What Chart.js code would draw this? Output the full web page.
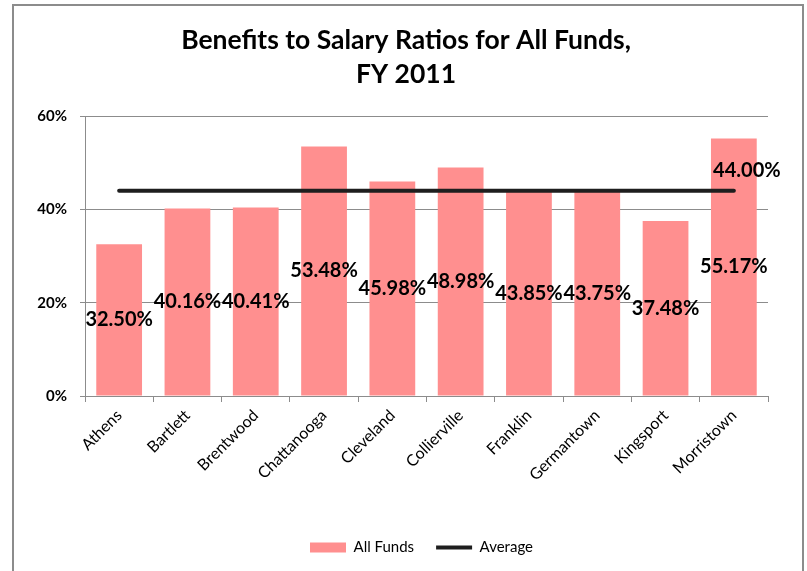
<!DOCTYPE html>
<html lang="en">
<head>
  <meta charset="UTF-8" />
  <title>Benefits to Salary Ratios for All Funds, FY 2011</title>
  <script src="https://cdn.jsdelivr.net/npm/chart.js"></script>
  <style>
    body { margin: 0; background: #fff; }
    #wrap { width: 807px; height: 571px; position: relative; }
  </style>
</head>
<body>
  <div id="wrap"><canvas id="ratioChart"></canvas></div>

  <script>
    // data
    const cities = ['Athens', 'Bartlett', 'Brentwood', 'Chattanooga', 'Cleveland',
                    'Collierville', 'Franklin', 'Germantown', 'Kingsport', 'Morristown'];
    const allFunds = [32.50, 40.16, 40.41, 53.48, 45.98, 48.98, 43.85, 43.75, 37.48, 55.17];
    const average  = [44.00, 44.00, 44.00, 44.00, 44.00, 44.00, 44.00, 44.00, 44.00, 44.00];
    const yTicks   = [0, 20, 40, 60];
    const titleLines = ['Benefits to Salary Ratios for All Funds,', 'FY 2011'];

    const FONT = 'Lato, "DejaVu Sans", sans-serif';

    // frame, title and value labels
    const decor = {
      id: 'decor',
      beforeDraw(chart) {
        const c = chart.ctx;
        c.save();
        c.strokeStyle = '#8c8c8c';
        c.lineWidth = 2;
        c.strokeRect(13, 5, 790, 620);
        c.fillStyle = '#000';
        c.font = 'bold 26.5px ' + FONT;
        c.textAlign = 'center';
        c.textBaseline = 'middle';
        c.fillText(titleLines[0], 406, 40);
        c.fillText(titleLines[1], 406, 74);
        c.restore();
      },
      afterLayout(chart) {
        // legend sits a little right of centre in the original
        chart.legend.left = 36;
        chart.legend.right = 807;
      },
      afterDatasetsDraw(chart) {
        const c = chart.ctx;
        c.save();
        c.fillStyle = '#000';
        c.font = 'bold 20px ' + FONT;
        c.textAlign = 'center';
        c.textBaseline = 'middle';
        chart.getDatasetMeta(1).data.forEach((bar, i) => {
          c.fillText(allFunds[i].toFixed(2) + '%', bar.x, (bar.y + bar.base) / 2);
        });
        const pts = chart.getDatasetMeta(0).data;
        const last = pts[pts.length - 1];
        c.fillText(average[average.length - 1].toFixed(2) + '%', last.x + 13, last.y - 20);
        c.restore();
      }
    };

    new Chart(document.getElementById('ratioChart'), {
      data: {
        labels: cities,
        datasets: [
          {
            type: 'line',
            label: 'Average',
            data: average,
            borderColor: '#1e1e1e',
            backgroundColor: '#1e1e1e',
            borderWidth: 4,
            pointRadius: 0,
            pointStyle: 'line',
            borderCapStyle: 'round',
            order: 0
          },
          {
            type: 'bar',
            label: 'All Funds',
            data: allFunds,
            backgroundColor: '#ff8f8f',
            borderWidth: 0,
            pointStyle: 'rect',
            barPercentage: 0.67,
            categoryPercentage: 1,
            order: 1
          }
        ]
      },
      options: {
        responsive: true,
        maintainAspectRatio: false,
        animation: false,
        layout: { padding: { left: 20, right: 39, top: 116, bottom: 6 } },
        scales: {
          x: {
            offset: true,
            grid: { offset: true, drawOnChartArea: false, color: '#8c8c8c', tickLength: 6 },
            border: { color: '#8c8c8c' },
            ticks: {
              color: '#000', font: { family: FONT, size: 16 },
              maxRotation: 45, minRotation: 45, labelOffset: 0, padding: 4
            },
            afterFit(s) { s.height = 122; }
          },
          y: {
            min: 0, max: 60,
            afterBuildTicks(s) { s.ticks = yTicks.map(v => ({ value: v })); },
            grid: { color: '#8c8c8c', tickLength: 5 },
            border: { color: '#8c8c8c' },
            ticks: {
              color: '#000', font: { family: FONT, size: 15, weight: 'bold' },
              padding: 13, callback: v => v + '%'
            },
            afterFit(s) { s.width = 65; }
          }
        },
        plugins: {
          title: { display: false },
          tooltip: { enabled: false },
          legend: {
            position: 'bottom',
            reverse: true,
            labels: {
              usePointStyle: true,
              pointStyleWidth: 36,
              boxHeight: 10,
              padding: 22,
              color: '#000',
              font: { family: FONT, size: 15 }
            }
          }
        }
      },
      plugins: [decor]
    });
  </script>
</body>
</html>
